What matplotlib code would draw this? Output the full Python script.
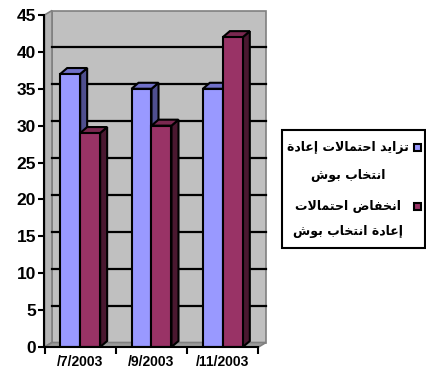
import matplotlib
matplotlib.use('Agg')
import matplotlib.pyplot as plt
from matplotlib.patches import Polygon, Rectangle

# data
categories = ['/7/2003', '/9/2003', '/11/2003']
rise = [37, 35, 35]      # blue series
fall = [29, 30, 42]      # maroon series
legend_lines = [['تزايد احتمالات إعادة', 'انتخاب بوش'],
                ['انخفاض احتمالات', 'إعادة انتخاب بوش']]
yticks = list(range(0, 50, 5))

# contextual forms for the letters used (isolated, final[, initial, medial])
FORMS = {
    'ا': ('\uFE8D', '\uFE8E'), 'إ': ('\uFE87', '\uFE88'), 'د': ('\uFEA9', '\uFEAA'),
    'ز': ('\uFEAF', '\uFEB0'), 'و': ('\uFEED', '\uFEEE'), 'ة': ('\uFE93', '\uFE94'),
    'ب': ('\uFE8F', '\uFE90', '\uFE91', '\uFE92'), 'ت': ('\uFE95', '\uFE96', '\uFE97', '\uFE98'),
    'ح': ('\uFEA1', '\uFEA2', '\uFEA3', '\uFEA4'), 'خ': ('\uFEA5', '\uFEA6', '\uFEA7', '\uFEA8'),
    'ش': ('\uFEB5', '\uFEB6', '\uFEB7', '\uFEB8'), 'ض': ('\uFEBD', '\uFEBE', '\uFEBF', '\uFEC0'),
    'ع': ('\uFEC9', '\uFECA', '\uFECB', '\uFECC'), 'ف': ('\uFED1', '\uFED2', '\uFED3', '\uFED4'),
    'ل': ('\uFEDD', '\uFEDE', '\uFEDF', '\uFEE0'), 'م': ('\uFEE1', '\uFEE2', '\uFEE3', '\uFEE4'),
    'ن': ('\uFEE5', '\uFEE6', '\uFEE7', '\uFEE8'), 'ي': ('\uFEF1', '\uFEF2', '\uFEF3', '\uFEF4'),
}
LAMALEF = {'ا': ('\uFEFB', '\uFEFC'), 'إ': ('\uFEF9', '\uFEFA')}


def shape(word):
    out = []
    joins = False
    i = 0
    while i < len(word):
        c = word[i]
        if c == 'ل' and i + 1 < len(word) and word[i + 1] in LAMALEF:
            out.append(LAMALEF[word[i + 1]][1 if joins else 0])
            joins = False
            i += 2
            continue
        f = FORMS[c]
        more = i + 1 < len(word)
        if len(f) == 2:
            out.append(f[1] if joins else f[0])
            joins = False
        else:
            if joins and more:
                out.append(f[3])
            elif joins:
                out.append(f[1])
            elif more:
                out.append(f[2])
            else:
                out.append(f[0])
            joins = True
        i += 1
    return ''.join(reversed(out))


def shape_line(line):
    # word order as it shows in the original picture
    return ' '.join(shape(w) for w in reversed(line.split()))


W, H = 427, 376
fig = plt.figure(figsize=(W / 100, H / 100), dpi=100)
x0, x1, y0, y1 = 44.5, 258.5, 347, 15
ax = fig.add_axes([x0 / W, 1 - y0 / H, (x1 - x0) / W, (y0 - y1) / H])
ax.set_xlim(-0.5, 2.5)
ax.set_ylim(0, 45)
ax.patch.set_visible(False)

# depth of the 3d box, in axes fractions
dx = 7.5 / (x1 - x0)
dy = 4.5 / (y0 - y1)
wall = '#C0C0C0'
edge = '#808080'
ax.add_patch(Polygon([(dx, dy), (1 + dx, dy), (1 + dx, 1 + dy), (dx, 1 + dy)], closed=True,
                     transform=ax.transAxes, facecolor=wall, edgecolor=edge, lw=1.2, clip_on=False, zorder=0))
ax.add_patch(Polygon([(0, 0), (dx, dy), (dx, 1 + dy), (0, 1)], closed=True,
                     transform=ax.transAxes, facecolor='#B4B4B4', edgecolor=edge, lw=1.2, clip_on=False, zorder=0))
ax.add_patch(Polygon([(0, 0), (1, 0), (1 + dx, dy), (dx, dy)], closed=True,
                     transform=ax.transAxes, facecolor='#9A9A9A', edgecolor=edge, lw=1.2, clip_on=False, zorder=0))
for v in yticks[1:-1]:
    ax.plot([dx, 1 + dx], [v / 45 + dy, v / 45 + dy], transform=ax.transAxes,
            color='black', lw=1.6, clip_on=False, zorder=1)

# bars with fake depth
bw = 0.28
ddx = 7 / ((x1 - x0) / 3)
ddy = 6 / ((y0 - y1) / 45)
series = [(rise, -bw / 2, '#9999FF', '#4F4F8F', '#7070C8'),
          (fall, bw / 2, '#993366', '#4A1830', '#7A2850')]
for vals, off, front, side, top in series:
    for i, v in enumerate(vals):
        left = i + off - bw / 2
        right = left + bw
        ax.add_patch(Polygon([(right, 0), (right + ddx, ddy), (right + ddx, v + ddy), (right, v)],
                             closed=True, facecolor=side, edgecolor='black', lw=1.5, zorder=3))
        ax.add_patch(Polygon([(left, v), (right, v), (right + ddx, v + ddy), (left + ddx, v + ddy)],
                             closed=True, facecolor=top, edgecolor='black', lw=1.5, zorder=3))
    ax.bar([i + off for i in range(len(vals))], vals, width=bw, color=front,
           edgecolor='black', lw=1.5, zorder=4)

for s in ['top', 'right']:
    ax.spines[s].set_visible(False)
for s in ['left', 'bottom']:
    ax.spines[s].set_linewidth(1.5)
    ax.spines[s].set_zorder(5)
ax.set_yticks(yticks)
ax.set_yticklabels([str(t) for t in yticks], fontsize=12.5, fontweight='bold', family='Liberation Sans')
ax.set_xticks([-0.5, 0.5, 1.5, 2.5])
ax.set_xticklabels([])
ax.set_xticks(range(3), minor=True)
ax.set_xticklabels(categories, minor=True, fontsize=10, fontweight='bold', family='Liberation Sans')
ax.tick_params(axis='y', length=4, width=1.5, pad=2)
ax.tick_params(axis='x', which='major', length=5, width=1.5)
ax.tick_params(axis='x', which='minor', length=0, pad=6)

# legend
fig.patches.append(Rectangle((282 / W, 1 - 248 / H), (425 - 282) / W, (248 - 130) / H,
                             transform=fig.transFigure, facecolor='white', edgecolor='black', lw=1.5))
colors = ['#9999FF', '#993366']
rows = [(148, 175), (207, 232)]
for (ya, yb), lines, c in zip(rows, legend_lines, colors):
    fig.patches.append(Rectangle((414 / W, 1 - (ya + 3) / H), 7 / W, 7 / H, transform=fig.transFigure,
                                 facecolor=c, edgecolor='black', lw=1.5))
    fig.text(348 / W, 1 - ya / H, shape_line(lines[0]), ha='center', va='center',
             fontsize=9, fontweight='bold', family=['DejaVu Sans'])
    fig.text(348 / W, 1 - yb / H, shape_line(lines[1]), ha='center', va='center',
             fontsize=9, fontweight='bold', family=['DejaVu Sans'])

fig.savefig('out.png', dpi=100)
